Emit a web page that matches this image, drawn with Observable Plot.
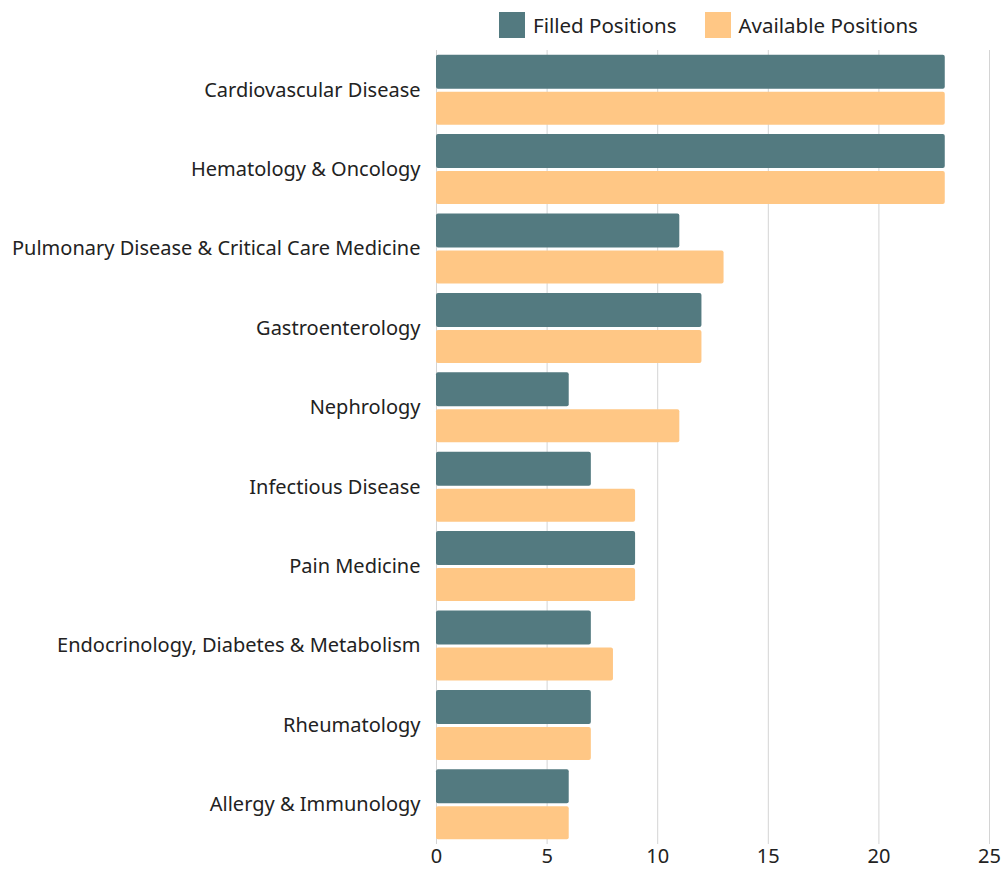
<!DOCTYPE html>
<html>
<head>
<meta charset="utf-8">
<script src="https://cdn.jsdelivr.net/npm/d3@7"></script>
<script src="https://cdn.jsdelivr.net/npm/@observablehq/plot@0.6"></script>
<style>
  body { margin: 0; background: #fff; font-family: "Noto Sans", sans-serif; }
  #wrap { position: relative; width: 1002px; height: 869px; }
  .legend { position: absolute; top: 11px; left: 499px; display: flex; align-items: center; font-size: 20.5px; color: #222; }
  .legend .item { display: flex; align-items: center; margin-right: 28px; }
  .legend .sw { width: 26px; height: 26px; margin-right: 8px; }
</style>
</head>
<body>
<div id="wrap">
  <div class="legend" id="legend"></div>
  <div id="chart"></div>
</div>
<script>
const categories = [
  "Cardiovascular Disease",
  "Hematology & Oncology",
  "Pulmonary Disease & Critical Care Medicine",
  "Gastroenterology",
  "Nephrology",
  "Infectious Disease",
  "Pain Medicine",
  "Endocrinology, Diabetes & Metabolism",
  "Rheumatology",
  "Allergy & Immunology"
];
const filled = [23, 23, 11, 12, 6, 7, 9, 7, 7, 6];
const available = [23, 23, 13, 12, 11, 9, 9, 8, 7, 6];
const seriesNames = ["Filled Positions", "Available Positions"];
const seriesColors = ["#537a80", "#ffc785"];
const xTicks = [0, 5, 10, 15, 20, 25];

const filledData = categories.map((c, i) => ({category: c, value: filled[i]}));
const availData = categories.map((c, i) => ({category: c, value: available[i]}));

const legend = document.getElementById("legend");
seriesNames.forEach((name, i) => {
  const item = document.createElement("div");
  item.className = "item";
  item.innerHTML = `<div class="sw" style="background:${seriesColors[i]}"></div><span>${name}</span>`;
  legend.appendChild(item);
});

const chart = Plot.plot({
  width: 1002,
  height: 869,
  marginTop: 50,
  marginBottom: 25,
  marginLeft: 436,
  marginRight: 13,
  style: {fontFamily: "Noto Sans, sans-serif", fontSize: "20px", color: "#222", background: "#fff"},
  x: {domain: [0, 25], ticks: xTicks, tickSize: 0, tickPadding: 4, label: null},
  y: {domain: categories, paddingInner: 0.118, paddingOuter: 0.059, round: false, tickSize: 0, tickPadding: 16, label: null},
  marks: [
    Plot.ruleX(xTicks, {stroke: "#d4d4d4", strokeWidth: 1}),
    Plot.barX(filledData, {x: "value", y: "category", fill: seriesColors[0], insetBottom: 36, rx: 2}),
    Plot.barX(availData, {x: "value", y: "category", fill: seriesColors[1], insetTop: 37, rx: 2})
  ]
});
document.getElementById("chart").appendChild(chart);
</script>
</body>
</html>
